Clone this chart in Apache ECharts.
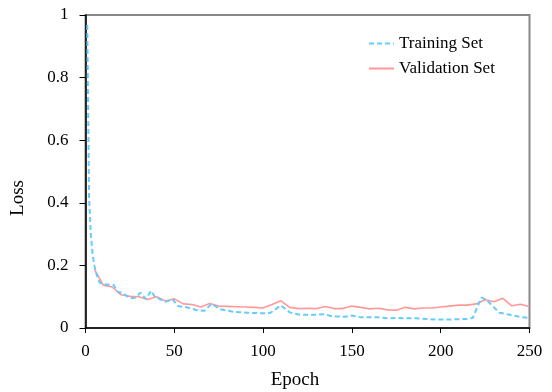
<!DOCTYPE html>
<html>
<head>
<meta charset="utf-8">
<script src="https://cdn.jsdelivr.net/npm/echarts@6/dist/echarts.min.js"></script>
<style>html,body{margin:0;padding:0;background:#fff;}#c{width:552px;height:392px;}</style>
</head>
<body>
<div id="c"></div>
<script>
var trainEpochs = [1,2,3,4,5,6,8,10,13,16,18,21,25,28,31,34,37,39,45,49,52,57,63,67,71,76,83,91,99,104,110,115,120,128,134,139,146,150,155,160,165,170,175,181,186,192,198,203,209,215,218,223,226,233,239,245,250];
var trainLoss = [0.968,0.42,0.30,0.235,0.20,0.175,0.145,0.14,0.138,0.137,0.116,0.112,0.095,0.097,0.113,0.093,0.119,0.10,0.084,0.092,0.07,0.066,0.057,0.055,0.077,0.06,0.052,0.049,0.047,0.048,0.072,0.05,0.043,0.042,0.044,0.037,0.036,0.04,0.034,0.034,0.034,0.031,0.032,0.031,0.031,0.029,0.027,0.027,0.028,0.029,0.032,0.098,0.089,0.049,0.042,0.035,0.032];
var valEpochs = [5,10,15,20,25,30,35,40,45,50,55,60,65,70,75,80,85,90,95,100,105,110,115,120,125,130,135,140,145,150,155,160,165,170,175,180,185,190,195,200,205,210,215,220,225,230,235,240,245,250];
var valLoss = [0.188,0.137,0.131,0.106,0.101,0.100,0.091,0.100,0.086,0.093,0.077,0.075,0.067,0.078,0.070,0.069,0.068,0.067,0.066,0.064,0.075,0.087,0.066,0.062,0.063,0.062,0.069,0.062,0.062,0.070,0.066,0.061,0.063,0.058,0.057,0.066,0.061,0.064,0.064,0.067,0.070,0.073,0.073,0.077,0.090,0.084,0.095,0.071,0.076,0.068];
var seriesNames = ['Training Set', 'Validation Set'];
var xTitle = 'Epoch';
var yTitle = 'Loss';

function pairs(xs, ys) { return xs.map(function (x, i) { return [x, ys[i]]; }); }

var font = '"Liberation Serif", "Times New Roman", serif';
var chart = echarts.init(document.getElementById('c'), null, {renderer: 'canvas'});
chart.setOption({
  backgroundColor: '#fff',
  animation: false,
  textStyle: {fontFamily: font},
  grid: {left: 85.5, right: 22.5, top: 15, bottom: 64, show: true, borderColor: '#888', borderWidth: 2, outerBoundsMode: 'none'},
  legend: {
    orient: 'vertical', left: 368, top: 35, padding: 0, itemWidth: 25, itemHeight: 14, itemGap: 8,
    itemStyle: {opacity: 0},
    textStyle: {fontFamily: font, fontSize: 17, color: '#000'},
    data: seriesNames
  },
  xAxis: {
    type: 'value', min: 0, max: 250, interval: 50,
    axisLine: {show: true, onZero: false, lineStyle: {color: '#000', width: 1.5}},
    axisTick: {show: true, inside: false, length: 5, lineStyle: {color: '#000'}},
    axisLabel: {fontFamily: font, fontSize: 17, color: '#000', margin: 15},
    splitLine: {show: false}
  },
  yAxis: {
    type: 'value', min: 0, max: 1, interval: 0.2,
    axisLine: {show: true, lineStyle: {color: '#000', width: 1.5}},
    axisTick: {show: true, inside: false, length: 6, lineStyle: {color: '#000'}},
    axisLabel: {fontFamily: font, fontSize: 17, color: '#000', margin: 17},
    splitLine: {show: false}
  },
  graphic: [
    {type: 'text', x: 295, y: 380, style: {text: xTitle, font: '19px ' + font, fill: '#000', align: 'center', verticalAlign: 'middle'}},
    {type: 'text', x: 18.5, y: 198, rotation: Math.PI / 2, style: {text: yTitle, font: '19px ' + font, fill: '#000', align: 'center', verticalAlign: 'middle'}}
  ],
  series: [
    {name: seriesNames[0], type: 'line', symbol: 'none', data: pairs(trainEpochs, trainLoss),
      lineStyle: {color: '#66ccff', width: 2, type: [5, 3]}, itemStyle: {color: '#66ccff'}, z: 3},
    {name: seriesNames[1], type: 'line', symbol: 'none', data: pairs(valEpochs, valLoss),
      lineStyle: {color: '#ff9999', width: 1.6}, itemStyle: {color: '#ff9999'}, z: 2}
  ]
});
</script>
</body>
</html>
